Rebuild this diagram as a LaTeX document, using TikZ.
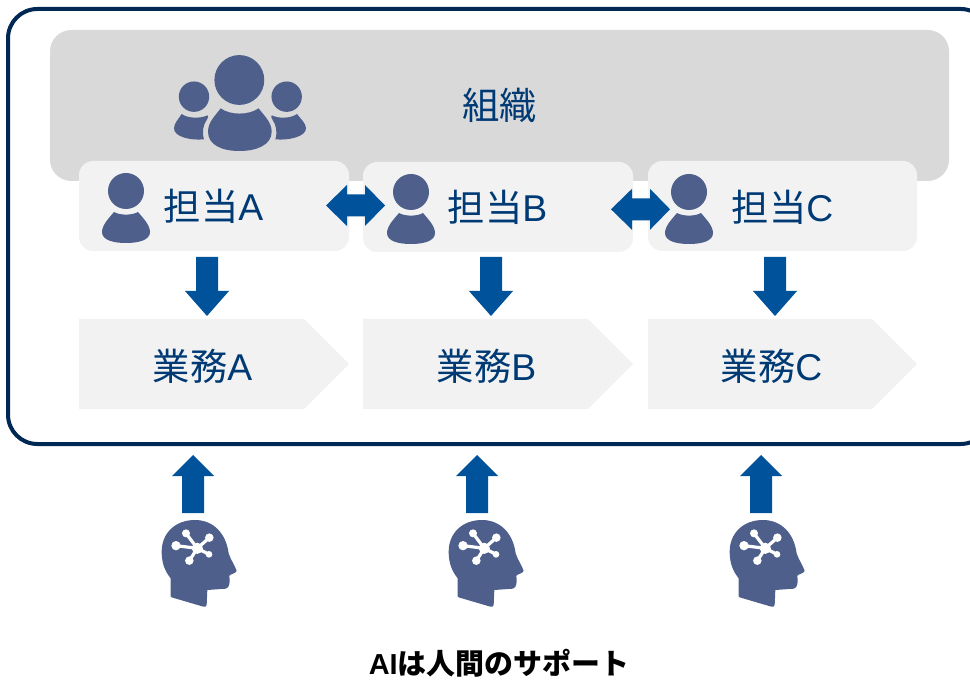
\documentclass[tikz,border=0pt]{standalone}
\usepackage{fontspec}
\setmainfont{Liberation Sans}
\newfontfamily\cjk{Noto Sans CJK JP}
\definecolor{frameC}{HTML}{002855}
\definecolor{grayC}{HTML}{D9D9D9}
\definecolor{boxC}{HTML}{F2F2F2}
\definecolor{iconC}{HTML}{4D5F8A}
\definecolor{arrowC}{HTML}{00529B}
\definecolor{textC}{HTML}{003A75}
\tikzset{
  boxshape/.style={fill=boxC,draw=none,rounded corners=14*0.75pt},
  blockarrow/.style={fill=arrowC,draw=none},
  iconfill/.style={fill=iconC,draw=none},
  lbl/.style={text=textC,font=\fontsize{28pt}{30pt}\selectfont,inner sep=0pt,anchor=west},
}
\newcommand{\personbody}{
  (-12,21) .. controls (-6,24.5) and (6,24.5) .. (12,21)
  .. controls (17,27) and (24,34) .. (24,41)
  .. controls (24,49) and (13,52) .. (0,52)
  .. controls (-13,52) and (-24,49) .. (-24,41)
  .. controls (-24,34) and (-17,27) .. (-12,21) -- cycle}
\newcommand{\personicon}[2]{
  \begin{scope}[shift={(#1,#2)}]
    \fill[iconfill] (0,0) circle [radius=18*0.75pt];
    \fill[iconfill] \personbody;
  \end{scope}}
\newcommand{\blockdown}[1]{
  \fill[blockarrow,shift={(#1,0)}] (-11,257) -- (11,257) -- (11,291) -- (22,291) -- (0,316) -- (-22,291) -- (-11,291) -- cycle;}
\newcommand{\blockup}[1]{
  \fill[blockarrow,shift={(#1,0)}] (-11,513) -- (11,513) -- (11,476) -- (21,476) -- (0,455) -- (-21,476) -- (-11,476) -- cycle;}
\newcommand{\blockdouble}[2]{
  \fill[blockarrow,shift={(#1,#2)}] (0,0) -- (21,-20.5) -- (21,-11) -- (39,-11) -- (39,-20.5) -- (59,0) -- (39,20.5) -- (39,11) -- (21,11) -- (21,20.5) -- cycle;}
\newcommand{\brainhead}[1]{
  \begin{scope}[shift={(#1,510)},x=0.25pt,y=-0.25pt]
    \fill[iconfill] (92,258) -- (92,205)
      .. controls (72,180) and (65,155) .. (65,125)
      .. controls (65,70) and (105,30) .. (165,30)
      .. controls (220,30) and (258,70) .. (266,130)
      .. controls (272,150) and (287,170) .. (290,183)
      .. controls (287,190) and (272,192) .. (268,197)
      .. controls (270,215) and (270,232) .. (258,236)
      -- (202,240) -- (200,285) .. controls (199,290) and (195,291) .. (190,290)
      -- (98,263) .. controls (93,262) and (92,260) .. (92,258) -- cycle;
    \draw[white,line width=2.4pt] (172,115) -- (138,70) (172,115) -- (208,83) (172,115) -- (108,107) (172,115) -- (207,133) (172,115) -- (148,152);
    \fill[white] (172,115) circle [radius=4.2pt]
      (138,70) circle [radius=3pt]
      (208,83) circle [radius=3.2pt]
      (108,107) circle [radius=3.5pt]
      (207,133) circle [radius=2.5pt]
      (148,152) circle [radius=3.2pt];
  \end{scope}}
\begin{document}
\begin{tikzpicture}[x=0.75pt,y=-0.75pt]
\useasboundingbox (0,0) rectangle (970,680);
\begin{scope}
\clip (0,0) rectangle (970,680);
\draw[frameC,line width=3pt,rounded corners=22pt] (8,9) rectangle (990,444);
\end{scope}
\fill[grayC,rounded corners=16pt] (50,30) rectangle (949,181);
% group icon
\begin{scope}[shift={(150,40)},x=0.25pt,y=-0.25pt]
  \fill[iconfill] (268,120) circle [radius=18.7pt];
  \fill[iconfill] (132,170) circle [radius=11.4pt];
  \fill[iconfill] (410,170) circle [radius=11.4pt];
  \fill[iconfill] (212,205) .. controls (240,226) and (296,226) .. (326,205)
    .. controls (340,225) and (365,245) .. (365,275)
    .. controls (365,315) and (320,333) .. (268,333)
    .. controls (216,333) and (174,315) .. (174,275)
    .. controls (174,245) and (198,225) .. (212,205) -- cycle;
  \fill[iconfill] (95,222) .. controls (115,236) and (150,236) .. (173,226)
    .. controls (176,230) and (174,234) .. (170,240)
    .. controls (160,255) and (155,275) .. (162,298)
    .. controls (120,302) and (72,290) .. (72,265)
    .. controls (72,250) and (85,238) .. (95,222) -- cycle;
  \fill[iconfill] (441,222) .. controls (421,236) and (386,236) .. (365,226)
    .. controls (362,230) and (364,234) .. (368,240)
    .. controls (378,255) and (383,275) .. (376,298)
    .. controls (416,302) and (468,290) .. (468,265)
    .. controls (468,250) and (453,238) .. (441,222) -- cycle;
\end{scope}
\node[anchor=center,text=textC,inner sep=0pt,font=\fontsize{28pt}{30pt}\selectfont\cjk] (org) at (499.5,105.5) {組織};
% person boxes
\path[boxshape] (79,161) rectangle (349,251);
\path[boxshape] (363,162) rectangle (633,252);
\path[boxshape] (648,161) rectangle (917,251);
\personicon{126}{191}
\personicon{411}{192}
\personicon{689}{192}
\node[lbl] (ta) at (163.5,206) {{\cjk 担当}A};
\node[lbl] (tb) at (447.5,207) {{\cjk 担当}B};
\node[lbl] (tc) at (731.5,207) {{\cjk 担当}C};
\blockdouble{326}{205.5}
\blockdouble{611}{209.3}
\blockdown{207}
\blockdown{491}
\blockdown{775}
% task pentagons
\fill[boxC] (79,319) -- (304,319) -- (349,364) -- (304,409) -- (79,409) -- cycle;
\fill[boxC] (363,319) -- (588,319) -- (633,364) -- (588,409) -- (363,409) -- cycle;
\fill[boxC] (648,319) -- (872,319) -- (917,364) -- (872,409) -- (648,409) -- cycle;
\node[lbl] (ga) at (152.5,366) {{\cjk 業務}A};
\node[lbl] (gb) at (436.5,366) {{\cjk 業務}B};
\node[lbl] (gc) at (720.5,366) {{\cjk 業務}C};
\blockup{193}
\blockup{477}
\blockup{761}
\brainhead{140}
\brainhead{427}
\brainhead{708}
\node[anchor=center,inner sep=0pt,font=\fontsize{21.7pt}{24pt}\selectfont\bfseries,text=black] (cap) at (499,663) {AI{\cjk\bfseries は人間のサポート}};
\end{tikzpicture}
\end{document}
